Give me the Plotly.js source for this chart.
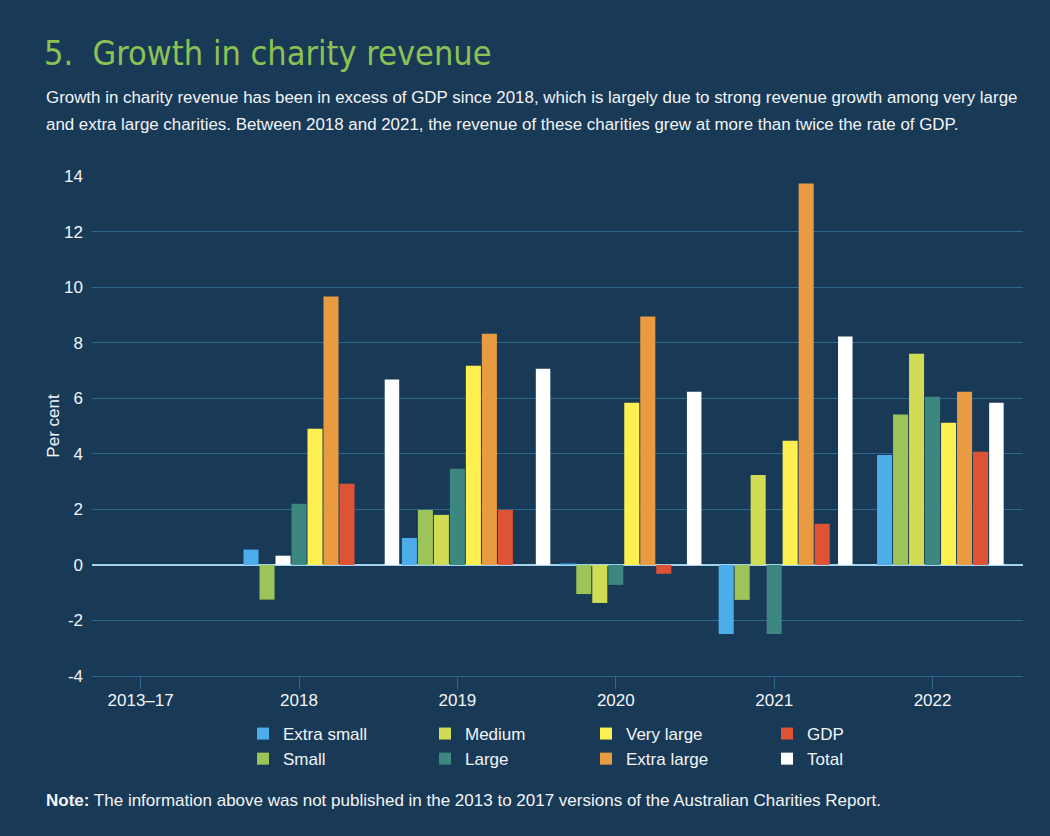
<!DOCTYPE html>
<html>
<head>
<meta charset="utf-8">
<script src="https://cdn.plot.ly/plotly-3.0.1.min.js"></script>
<style>
  html, body { margin: 0; padding: 0; background: #193A57; }
  #chart { width: 1050px; height: 836px; }
</style>
</head>
<body>
<div id="chart"></div>
<script>
// ---- Data ----
const categories = ['2013\u201317', '2018', '2019', '2020', '2021', '2022'];
const extraSmall = [null, 0.55, 0.97, 0.05, -2.49, 3.96];
const small      = [null, -1.25, 1.98, -1.05, -1.26, 5.41];
const medium     = [null, 0.33, 1.80, -1.37, 3.24, 7.60];
const large      = [null, 2.20, 3.46, -0.72, -2.49, 6.05];
const veryLarge  = [null, 4.90, 7.17, 5.84, 4.47, 5.12];
const extraLarge = [null, 9.66, 8.32, 8.94, 13.73, 6.23];
const gdp        = [null, 2.92, 1.98, -0.32, 1.48, 4.07];
const total      = [null, 6.67, 7.06, 6.23, 8.22, 5.84];
const yTickVals   = [-4, -2, 0, 2, 4, 6, 8, 10, 12, 14];
const yTickLabels = ['-4', '-2', '0', '2', '4', '6', '8', '10', '12', '14'];

// ---- Styles ----
const BG = '#193A57';
const GRID = '#2D688C';
const TEXT = '#F2F4F6';
const colors = {
  'Extra small': '#4DADEA',
  'Small': '#9CC458',
  'Medium': '#D1DB54',
  'Large': '#3C877F',
  'Very large': '#FEF050',
  'Extra large': '#E99B41',
  'GDP': '#DE5334',
  'Total': '#FFFFFF'
};
// the 2018 "Medium" bar is drawn in white in the reference
const mediumColors = medium.map((v, i) => i === 1 ? '#FFFFFF' : colors['Medium']);

const legendOf = {
  'Extra small': 'legend', 'Small': 'legend',
  'Medium': 'legend2', 'Large': 'legend2',
  'Very large': 'legend3', 'Extra large': 'legend3',
  'GDP': 'legend4', 'Total': 'legend4'
};

function bar(name, y, extra) {
  return Object.assign({
    type: 'bar', name: name, x: categories, y: y,
    marker: { color: colors[name], line: { width: 0 } },
    legend: legendOf[name],
    hoverinfo: 'x+y+name'
  }, extra || {});
}

const traces = [
  bar('Extra small', extraSmall),
  bar('Small', small),
  bar('Medium', medium, { marker: { color: mediumColors, line: { width: 0 } } }),
  bar('Large', large),
  bar('Very large', veryLarge),
  bar('Extra large', extraLarge),
  bar('GDP', gdp),
  bar('Total', total, { xaxis: 'x2', width: 0.096 })
];

const FONT = 'Liberation Sans, Arial, sans-serif';

const legendBase = {
  orientation: 'v', xanchor: 'left', yanchor: 'top', y: -0.080,
  bgcolor: 'rgba(0,0,0,0)', borderwidth: 0,
  font: { family: FONT, size: 17, color: TEXT },
  tracegroupgap: 0, itemclick: false, itemdoubleclick: false
};

const layout = {
  width: 1050, height: 836,
  paper_bgcolor: BG, plot_bgcolor: BG,
  margin: { l: 92, r: 27, t: 176, b: 160 },
  font: { family: FONT, color: TEXT, size: 17 },
  title: {
    text: '5.\u00a0\u00a0Growth in charity revenue',
    font: { family: 'DejaVu Sans Condensed, DejaVu Sans, sans-serif', size: 34, color: '#8DC153' },
    xref: 'container', yref: 'container', x: 44 / 1050, xanchor: 'left',
    y: 1 - 53 / 836, yanchor: 'middle'
  },
  barmode: 'group',
  bargap: 0.293,
  bargroupgap: 0.06,
  xaxis: {
    type: 'category', range: [-0.307, 5.571],
    showgrid: false, zeroline: false,
    showline: true, linecolor: GRID, linewidth: 1,
    ticks: 'outside', ticklen: 12, tickcolor: GRID, tickwidth: 1,
    ticklabelstandoff: -3,
    tickfont: { size: 17, color: TEXT }
  },
  xaxis2: {
    type: 'category', overlaying: 'x', anchor: 'y', range: [-0.985, 5.176],
    visible: false, showgrid: false, zeroline: false
  },
  yaxis: {
    range: [-4, 14],
    tickmode: 'array', tickvals: yTickVals, ticktext: yTickLabels,
    showgrid: true, gridcolor: GRID, gridwidth: 1,
    zeroline: true, zerolinecolor: '#A3D5F2', zerolinewidth: 1.5,
    showline: false, ticks: '',
    ticklabelstandoff: 8,
    tickfont: { size: 17, color: TEXT },
    title: { text: 'Per cent', font: { size: 17, color: TEXT }, standoff: 0 }
  },
  legend:  Object.assign({}, legendBase, { x: (243 - 92) / 931 }),
  legend2: Object.assign({}, legendBase, { x: (425 - 92) / 931 }),
  legend3: Object.assign({}, legendBase, { x: (586 - 92) / 931 }),
  legend4: Object.assign({}, legendBase, { x: (767 - 92) / 931 }),
  showlegend: true,
  annotations: [
    {
      text: 'Growth in charity revenue has been in excess of GDP since 2018, which is largely due to strong revenue growth among very large',
      xref: 'paper', yref: 'paper', x: (44 - 92) / 931, y: (676 - 97) / 500,
      xanchor: 'left', yanchor: 'middle', showarrow: false,
      font: { size: 16.9, color: TEXT }
    },
    {
      text: 'and extra large charities. Between 2018 and 2021, the revenue of these charities grew at more than twice the rate of GDP.',
      xref: 'paper', yref: 'paper', x: (44 - 92) / 931, y: (676 - 125) / 500,
      xanchor: 'left', yanchor: 'middle', showarrow: false,
      font: { size: 16.9, color: TEXT }
    },
    {
      text: '<b>Note:</b> The information above was not published in the 2013 to 2017 versions of the Australian Charities Report.',
      xref: 'paper', yref: 'paper', x: (44 - 92) / 931, y: (676 - 800) / 500,
      xanchor: 'left', yanchor: 'middle', showarrow: false,
      font: { size: 17, color: TEXT }
    }
  ]
};

Plotly.newPlot('chart', traces, layout, { displayModeBar: false, staticPlot: true });
</script>
</body>
</html>
